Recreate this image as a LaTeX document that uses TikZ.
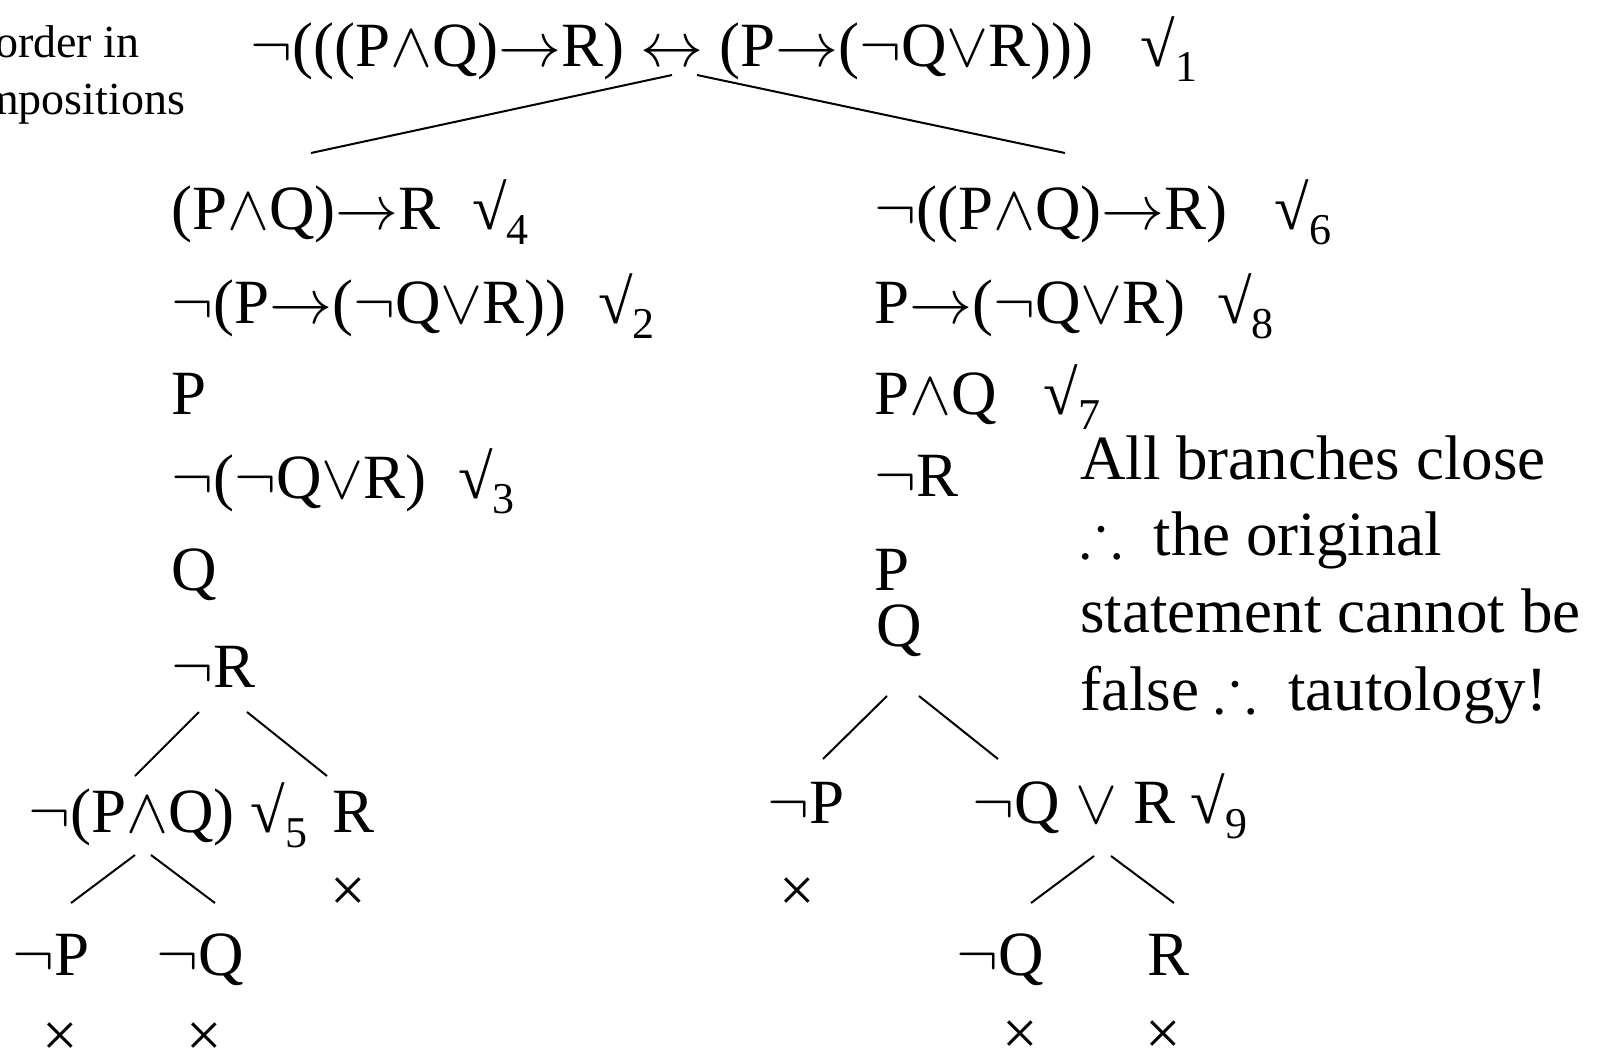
\RequirePackage{fix-cm}
\documentclass[tikz,border=0pt]{standalone}
\usepackage{amssymb}
\usepackage{fontspec}
\setmainfont{Liberation Serif}
\usetikzlibrary{positioning}
\newcommand{\treefont}{\fontsize{63}{75}\selectfont}
\newcommand{\notefont}{\fontsize{46}{54}\selectfont}
\newcommand{\tick}[1]{√\raisebox{-0.24em}{\fontsize{44}{44}\selectfont #1}}
\newcommand{\tneg}{$\mathord{\neg}$}
\newcommand{\tand}{$\mathord{\wedge}$}
\newcommand{\tor}{$\mathord{\vee}$}
\newcommand{\timp}{$\mathord{\rightarrow}$}
\newcommand{\tiff}{$\mathord{\leftrightarrow}$}
\newcommand{\hence}{$\therefore$}

\begin{document}
\begin{tikzpicture}[x=1pt,y=-1pt,
  fml/.style={anchor=base west,inner sep=0pt,font=\treefont},
  note/.style={anchor=base west,inner sep=0pt,font=\notefont},
  shut/.style={anchor=center,inner sep=0pt,font=\treefont},
  branch/.style={line width=2pt}]
  \useasboundingbox (0,0) rectangle (1598,1055);

  \node[note] (nt1) at (-5,57) {order in};
  \node[note] (nt2) at (-17,114) {mpositions};

  \node[fml] (root) at (250,66) {\tneg(((P\tand Q)\timp R) \tiff{} (P\timp(\tneg Q\tor R)))~~~\tick{1}};

  \node[fml] (lA) at (171,229) {(P\tand Q)\timp R~~\tick{4}};
  \node[fml] (lB) at (171,323) {\tneg(P\timp(\tneg Q\tor R))~~\tick{2}};
  \node[fml] (lC) at (171,414) {P};
  \node[fml] (lD) at (171,498) {\tneg(\tneg Q\tor R)~~\tick{3}};
  \node[fml] (lE) at (171,590) {Q};
  \node[fml] (lF) at (171,687) {\tneg R};
  \node[fml] (lG) at (28,832) {\tneg(P\tand Q) \tick{5}};
  \node[fml] (lH) at (332,832) {R};
  \node[shut] (xH) at (348,895) {×};
  \node[fml] (lI) at (12,975) {\tneg P};
  \node[fml] (lJ) at (156,975) {\tneg Q};
  \node[shut] (xI) at (60,1040) {×};
  \node[shut] (xJ) at (204,1040) {×};

  \node[fml] (rA) at (874,229) {\tneg((P\tand Q)\timp R)~~~\tick{6}};
  \node[fml] (rB) at (874,323) {P\timp(\tneg Q\tor R)~~\tick{8}};
  \node[fml] (rC) at (874,414) {P\tand Q~~~\tick{7}};
  \node[fml] (rD) at (874,496) {\tneg R};
  \node[fml] (rE) at (874,590) {P};
  \node[fml] (rF) at (876,646) {Q};
  \node[fml] (rG) at (767,823) {\tneg P};
  \node[shut] (xG) at (797,895) {×};
  \node[fml] (rH) at (972,823) {\tneg Q \tor{} R \tick{9}};
  \node[fml] (rI) at (956,975) {\tneg Q};
  \node[fml] (rJ) at (1147,975) {R};
  \node[shut] (xI2) at (1020,1038) {×};
  \node[shut] (xJ2) at (1163,1038) {×};

  \node[fml] (cc1) at (1080,479) {All branches close};
  \node[fml] (cc2) at (1080,555) {\hence{}~~the original};
  \node[fml] (cc3) at (1080,632) {statement cannot be};
  \node[fml] (cc4) at (1080,710) {false~\hence{}~~tautology!};

  \draw[branch] ([shift={(422,9)}]root.base west) -- ([shift={(140,-76)}]lA.base west);
  \draw[branch] ([shift={(447,9)}]root.base west) -- ([shift={(191,-76)}]rA.base west);

  \draw[branch] ([shift={(28,25)}]lF.base west) -- ([shift={(107,-56)}]lG.base west);
  \draw[branch] ([shift={(76,25)}]lF.base west) -- ([shift={(-5,-56)}]lH.base west);
  \draw[branch] ([shift={(107,23)}]lG.base west) -- ([shift={(59,-72)}]lI.base west);
  \draw[branch] ([shift={(123,23)}]lG.base west) -- ([shift={(59,-72)}]lJ.base west);

  \draw[branch] ([shift={(11,50)}]rF.base west) -- ([shift={(56,-64)}]rG.base west);
  \draw[branch] ([shift={(43,50)}]rF.base west) -- ([shift={(26,-64)}]rH.base west);
  \draw[branch] ([shift={(122,33)}]rH.base west) -- ([shift={(75,-72)}]rI.base west);
  \draw[branch] ([shift={(139,33)}]rH.base west) -- ([shift={(27,-72)}]rJ.base west);
\end{tikzpicture}
\end{document}
